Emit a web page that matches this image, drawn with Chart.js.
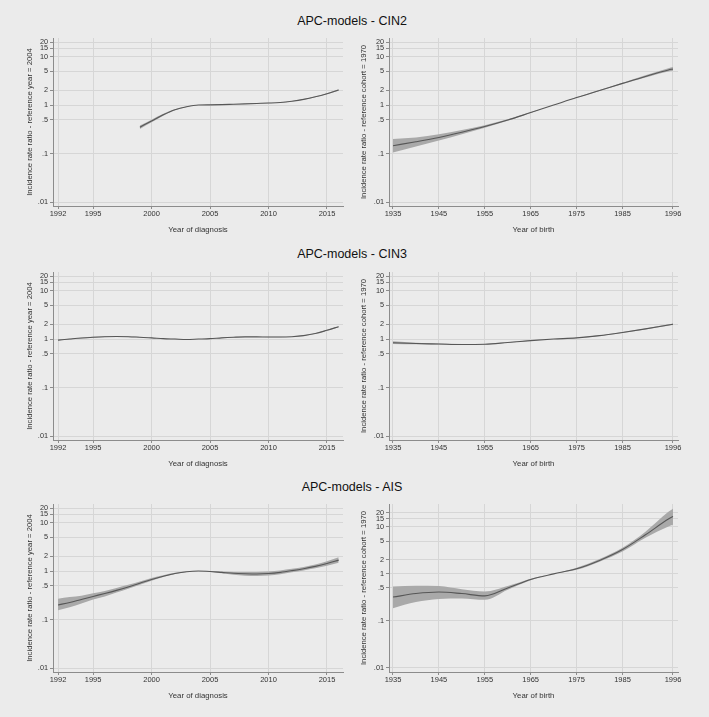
<!DOCTYPE html>
<html>
<head>
<meta charset="utf-8">
<script src="https://cdn.jsdelivr.net/npm/chart.js@4.4.1/dist/chart.umd.min.js"></script>
<style>
  body { margin:0; background:#ebebeb; width:709px; height:717px; position:relative; overflow:hidden; font-family:"Liberation Sans", Arial, sans-serif; }
  canvas { position:absolute; }
  .title { position:absolute; left:0; width:704px; text-align:center; font-size:12.5px; line-height:14px; color:#111; }
</style>
</head>
<body>
<div class="title" style="top:14px">APC-models - CIN2</div>
<div class="title" style="top:247px">APC-models - CIN3</div>
<div class="title" style="top:480px">APC-models - AIS</div>
<canvas id="c1" width="354" height="213" style="left:0;top:28px"></canvas>
<canvas id="c2" width="355" height="213" style="left:354px;top:28px"></canvas>
<canvas id="c3" width="354" height="213" style="left:0;top:261.5px"></canvas>
<canvas id="c4" width="355" height="213" style="left:354px;top:261.5px"></canvas>
<canvas id="c5" width="354" height="213" style="left:0;top:494.3px"></canvas>
<canvas id="c6" width="355" height="213" style="left:354px;top:494.3px"></canvas>
<script>
// tick labels
const periodTicks = [1992, 1995, 2000, 2005, 2010, 2015];
const cohortTicks = [1935, 1945, 1955, 1965, 1975, 1985, 1996];
const yTicks = [20, 15, 10, 5, 2, 1, 0.5, 0.1, 0.01];

// x values
const periodYears = [1992, 1993, 1994, 1995, 1996, 1997, 1998, 1999, 2000, 2001, 2002, 2003,
  2004, 2005, 2006, 2007, 2008, 2009, 2010, 2011, 2012, 2013, 2014, 2015, 2016];
const cin2PeriodYears = [1999, 2000, 2001, 2002, 2003, 2004, 2005, 2006, 2007, 2008, 2009,
  2010, 2011, 2012, 2013, 2014, 2015, 2016];
const cohortYears = [1935, 1940, 1945, 1950, 1955, 1960, 1965, 1970, 1975, 1980, 1985, 1990, 1995, 1996];

// CIN2
const cin2PeriodIrr = [0.35, 0.47, 0.63, 0.80, 0.92, 1.00, 1.01, 1.02, 1.04, 1.06, 1.08, 1.10, 1.13, 1.20, 1.31, 1.48, 1.72, 2.05];
const cin2PeriodLo  = [0.32, 0.44, 0.60, 0.78, 0.91, 1.00, 1.00, 1.01, 1.03, 1.05, 1.07, 1.09, 1.11, 1.18, 1.28, 1.45, 1.68, 1.98];
const cin2PeriodHi  = [0.38, 0.50, 0.66, 0.82, 0.93, 1.00, 1.02, 1.03, 1.05, 1.07, 1.09, 1.11, 1.15, 1.22, 1.34, 1.51, 1.76, 2.12];
const cin2CohortIrr = [0.145, 0.175, 0.215, 0.275, 0.36, 0.49, 0.70, 1.00, 1.43, 2.00, 2.80, 3.90, 5.30, 5.55];
const cin2CohortLo  = [0.105, 0.140, 0.185, 0.250, 0.34, 0.475, 0.69, 1.00, 1.41, 1.96, 2.72, 3.70, 4.95, 5.10];
const cin2CohortHi  = [0.200, 0.215, 0.250, 0.305, 0.385, 0.51, 0.71, 1.00, 1.45, 2.05, 2.90, 4.10, 5.75, 6.10];

// CIN3
const cin3PeriodIrr = [0.95, 1.00, 1.05, 1.09, 1.12, 1.13, 1.12, 1.09, 1.06, 1.02, 1.00, 0.98,
  1.00, 1.02, 1.06, 1.09, 1.11, 1.11, 1.10, 1.10, 1.12, 1.18, 1.30, 1.52, 1.80];
const cin3PeriodLo  = [0.93, 0.98, 1.03, 1.07, 1.10, 1.11, 1.10, 1.08, 1.05, 1.01, 0.99, 0.97,
  1.00, 1.01, 1.05, 1.08, 1.10, 1.10, 1.09, 1.09, 1.11, 1.16, 1.28, 1.49, 1.76];
const cin3PeriodHi  = [0.97, 1.02, 1.07, 1.11, 1.14, 1.15, 1.14, 1.10, 1.07, 1.03, 1.01, 0.99,
  1.00, 1.03, 1.07, 1.10, 1.12, 1.12, 1.11, 1.11, 1.13, 1.20, 1.32, 1.55, 1.84];
const cin3CohortIrr = [0.84, 0.81, 0.79, 0.77, 0.78, 0.85, 0.93, 1.00, 1.06, 1.18, 1.37, 1.62, 1.95, 2.02];
const cin3CohortLo  = [0.79, 0.78, 0.77, 0.76, 0.77, 0.84, 0.92, 1.00, 1.05, 1.16, 1.34, 1.58, 1.89, 1.95];
const cin3CohortHi  = [0.90, 0.84, 0.81, 0.79, 0.79, 0.86, 0.94, 1.00, 1.07, 1.20, 1.40, 1.66, 2.01, 2.09];

// AIS
const aisPeriodIrr = [0.20, 0.225, 0.26, 0.30, 0.345, 0.40, 0.47, 0.56, 0.67, 0.78, 0.89, 0.97,
  1.00, 0.98, 0.94, 0.90, 0.88, 0.87, 0.89, 0.94, 1.02, 1.12, 1.25, 1.43, 1.68];
const aisPeriodLo  = [0.155, 0.18, 0.215, 0.26, 0.30, 0.36, 0.43, 0.52, 0.63, 0.75, 0.87, 0.96,
  1.00, 0.96, 0.90, 0.84, 0.80, 0.79, 0.81, 0.86, 0.94, 1.03, 1.14, 1.29, 1.48];
const aisPeriodHi  = [0.27, 0.29, 0.31, 0.35, 0.39, 0.45, 0.52, 0.61, 0.72, 0.82, 0.92, 0.98,
  1.00, 1.00, 0.98, 0.96, 0.96, 0.96, 0.98, 1.03, 1.11, 1.22, 1.37, 1.60, 1.92];
const aisCohortIrr = [0.32, 0.38, 0.41, 0.38, 0.34, 0.50, 0.76, 1.00, 1.28, 1.93, 3.30, 6.80, 14.7, 16.7];
const aisCohortLo  = [0.185, 0.25, 0.29, 0.30, 0.28, 0.46, 0.73, 1.00, 1.22, 1.82, 3.00, 5.90, 10.2, 11.1];
const aisCohortHi  = [0.54, 0.56, 0.55, 0.47, 0.42, 0.55, 0.79, 1.00, 1.35, 2.08, 3.60, 7.90, 21.0, 24.5];

const FONT = '"Liberation Sans", Arial, sans-serif';
const AXIS = '#8c8c8c';
const GRID = '#d6d6d6';

function panel(id, years, irr, lo, hi, o) {
  const pts = v => years.map((x, i) => ({x: x, y: v[i]}));
  const left = o.side === 'left';
  // chart.js paints datasets last-to-first, so the estimate goes first to sit on top of the band
  new Chart(document.getElementById(id), {
    type: 'line',
    data: {
      datasets: [
        { data: pts(irr), borderColor: '#575757', borderWidth: 1.1, pointRadius: 0, fill: false, cubicInterpolationMode: 'monotone' },
        { data: pts(lo), borderWidth: 0, pointRadius: 0, fill: false, cubicInterpolationMode: 'monotone' },
        { data: pts(hi), borderWidth: 0, pointRadius: 0, fill: '-1', backgroundColor: '#a9a9a9', cubicInterpolationMode: 'monotone' }
      ]
    },
    options: {
      responsive: false,
      animation: false,
      events: [],
      layout: { padding: { left: left ? 21.4 : 1.4, right: left ? 11 : 31, top: 10, bottom: 2.3 } },
      plugins: { legend: { display: false }, tooltip: { enabled: false } },
      scales: {
        x: {
          type: 'linear', min: o.xMin, max: o.xMax,
          afterBuildTicks: s => { s.ticks = o.xTicks.map(v => ({value: v})); },
          afterFit: s => { s.height = 32.7; },
          grid: { color: GRID, tickColor: AXIS, tickLength: 3 },
          border: { color: AXIS },
          ticks: { autoSkip: false, maxRotation: 0, padding: 0, color: '#333', font: { size: 7.5, family: FONT }, callback: v => String(v) },
          title: { display: true, text: o.xTitle, color: '#333', font: { size: 7.8, family: FONT }, padding: { top: 4, bottom: 4 } }
        },
        y: {
          type: 'logarithmic', min: o.yMin, max: o.yMax,
          afterBuildTicks: s => { s.ticks = yTicks.map(v => ({value: v})); },
          afterFit: s => { s.width = left ? 31.6 : 33.6; },
          grid: { color: GRID, tickColor: AXIS, tickLength: 3 },
          border: { color: AXIS },
          ticks: { autoSkip: false, padding: 2, color: '#333', font: { size: 7.3, family: FONT },
            callback: v => String(v).replace(/^0\./, '.') },
          title: { display: true, text: o.yTitle, color: '#333', font: { size: 7.7, family: FONT }, padding: { top: 4, bottom: 4 } }
        }
      }
    }
  });
}

const periodOpts = { side: 'left', xMin: 1991.57, xMax: 2016.37, xTicks: periodTicks, yMin: 0.00827, yMax: 24.2,
  xTitle: 'Year of diagnosis', yTitle: 'Incidence rate ratio - reference year = 2004' };
const cohortOpts = { side: 'right', xMin: 1934.13, xMax: 1997.09, xTicks: cohortTicks, yMin: 0.00827, yMax: 24.2,
  xTitle: 'Year of birth', yTitle: 'Incidence rate ratio - reference cohort = 1970' };

panel('c1', cin2PeriodYears, cin2PeriodIrr, cin2PeriodLo, cin2PeriodHi, periodOpts);
panel('c2', cohortYears, cin2CohortIrr, cin2CohortLo, cin2CohortHi, cohortOpts);
panel('c3', periodYears, cin3PeriodIrr, cin3PeriodLo, cin3PeriodHi, periodOpts);
panel('c4', cohortYears, cin3CohortIrr, cin3CohortLo, cin3CohortHi, cohortOpts);
panel('c5', periodYears, aisPeriodIrr, aisPeriodLo, aisPeriodHi, periodOpts);
panel('c6', cohortYears, aisCohortIrr, aisCohortLo, aisCohortHi, Object.assign({}, cohortOpts, { yMin: 0.0081, yMax: 30.8 }));
</script>
</body>
</html>
